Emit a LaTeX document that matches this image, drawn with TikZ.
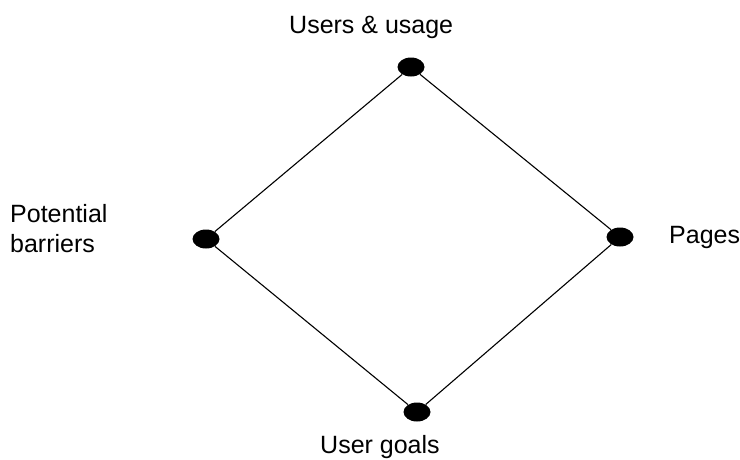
\documentclass[tikz,border=0pt]{standalone}
\usepackage{fontspec}
\setmainfont{Liberation Sans}
\usetikzlibrary{shapes.geometric}
\begin{document}
\begin{tikzpicture}[x=1pt,y=-1pt,
  dot/.style={ellipse,fill=black,minimum width=27pt,minimum height=19pt,inner sep=0pt},
  edge/.style={draw=black,line width=1.1pt},
  lbl/.style={font=\fontsize{25pt}{30pt}\selectfont,inner sep=0pt}]
\useasboundingbox (0,0) rectangle (740,459);
% the four corners of the diamond
\node[dot] (top) at (411,67) {};
\node[dot] (left) at (206,239) {};
\node[dot] (right) at (620,237) {};
\node[dot] (bottom) at (417,412) {};
% sides
\draw[edge] (top) -- (right) -- (bottom) -- (left) -- (top);
% labels
\node[lbl,anchor=base west] (tlab) at (289,33) {Users \& usage};
\node[lbl,anchor=base west] (llab1) at (10,222) {Potential};
\node[lbl,anchor=base west] (llab2) at (10,252) {barriers};
\node[lbl,anchor=base west] (rlab) at (669,243) {Pages};
\node[lbl,anchor=base west] (blab) at (320,453) {User goals};
\end{tikzpicture}
\end{document}
